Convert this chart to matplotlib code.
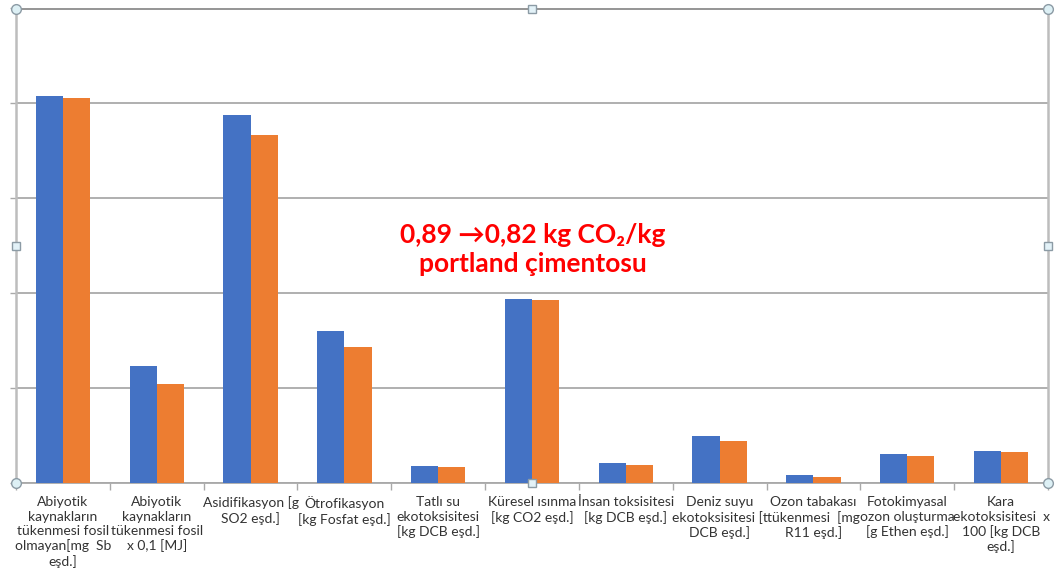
import numpy as np
import matplotlib
matplotlib.use("Agg")
import matplotlib.pyplot as plt

plt.rcParams['font.family'] = ['Lato', 'DejaVu Sans']

# category labels (wrapped as in the original)
categories = [
    "Abiyotik\nkaynakların\ntükenmesi fosil\nolmayan[mg  Sb\neşd.]",
    "Abiyotik\nkaynakların\ntükenmesi fosil\nx 0,1 [MJ]",
    "Asidifikasyon [g\nSO2 eşd.]",
    "Ötrofikasyon\n[kg Fosfat eşd.]",
    "Tatlı su\nekotoksisitesi\n[kg DCB eşd.]",
    "Küresel ısınma\n[kg CO2 eşd.]",
    "İnsan toksisitesi\n[kg DCB eşd.]",
    "Deniz suyu\nekotoksisitesi [t\nDCB eşd.]",
    "Ozon tabakası\ntükenmesi  [mg\nR11 eşd.]",
    "Fotokimyasal\nozon oluşturma\n[g Ethen eşd.]",
    "Kara\nekotoksisitesi  x\n100 [kg DCB\neşd.]",
]

# values (no axis labels, relative units)
series_before = [4.077, 1.226, 3.877, 1.598, 0.171, 1.939, 0.203, 0.494, 0.076, 0.301, 0.332]
series_after = [4.056, 1.036, 3.662, 1.429, 0.160, 1.922, 0.185, 0.438, 0.061, 0.280, 0.322]

note_text = "0,89 \u21920,82 kg CO\u2082/kg\nportland çimentosu"

blue = "#4472C4"
orange = "#ED7D31"
grid_col = "#A9A9A9"
frame_col = "#BDBDBD"

W, H = 1060, 573
fig = plt.figure(figsize=(W / 100, H / 100), dpi=100)
x0, x1, ytop, ybot = 16, 1048, 8.5, 482.5
ax = fig.add_axes([x0 / W, 1 - ybot / H, (x1 - x0) / W, (ybot - ytop) / H])

x = np.arange(len(categories))
bw = 0.29
ax.bar(x - bw / 2, series_before, bw, color=blue, zorder=3)
ax.bar(x + bw / 2, series_after, bw, color=orange, zorder=3)

ax.set_xlim(-0.5, len(categories) - 0.5)
ax.set_ylim(0, 5)

ax.set_yticks(range(6))
ax.set_yticklabels([])
ax.yaxis.grid(True, color=grid_col, linewidth=1.3, zorder=0)
ax.tick_params(axis='y', length=4, width=1, color=grid_col, direction='out')

ax.set_xticks(x)
ax.set_xticklabels(categories, fontsize=10, color="#333333", linespacing=1.22,
                   va='top', ha='center')
ax.set_xticks(np.arange(len(categories) + 1) - 0.5, minor=True)
ax.tick_params(axis='x', which='major', length=0, pad=10)
ax.tick_params(axis='x', which='minor', length=5, width=1, color=grid_col, direction='out')

for side in ['left', 'right']:
    ax.spines[side].set_color(frame_col)
    ax.spines[side].set_linewidth(1.8)
ax.spines['top'].set_color("#8C8C8C")
ax.spines['top'].set_linewidth(1.3)
ax.spines['bottom'].set_color(grid_col)
ax.spines['bottom'].set_linewidth(1.3)

# selection handles around the chart frame
corners_x = [x0, x1, x0, x1]
corners_y = [ytop, ytop, ybot, ybot]
fig.lines.append(plt.Line2D([c / W for c in corners_x], [1 - c / H for c in corners_y],
                            transform=fig.transFigure, linestyle='none', marker='o',
                            markersize=7, markerfacecolor="#DDF0F5",
                            markeredgecolor="#8C9BA5", markeredgewidth=1))
mid_x = [(x0 + x1) / 2, (x0 + x1) / 2, x0, x1]
mid_y = [ytop, ybot, (ytop + ybot) / 2, (ytop + ybot) / 2]
fig.lines.append(plt.Line2D([c / W for c in mid_x], [1 - c / H for c in mid_y],
                            transform=fig.transFigure, linestyle='none', marker='s',
                            markersize=6, markerfacecolor="#E3F2F8",
                            markeredgecolor="#8C9BA5", markeredgewidth=1))

fig.text(533 / W, 1 - 249 / H, note_text, color="#FF0000", fontsize=19,
         fontweight='bold', ha='center', va='center', linespacing=1.25)

fig.savefig("out.png", dpi=100)
